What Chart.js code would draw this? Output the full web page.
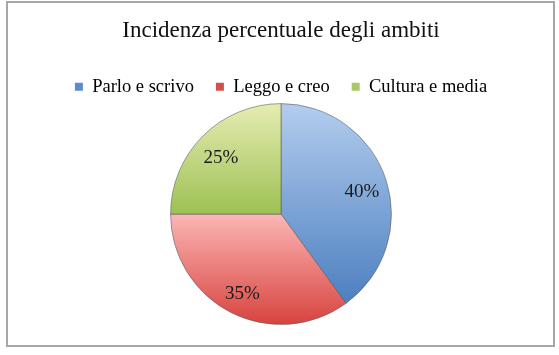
<!DOCTYPE html>
<html lang="it">
<head>
  <meta charset="UTF-8">
  <title>Incidenza percentuale degli ambiti</title>
  <script src="https://cdn.jsdelivr.net/npm/chart.js"></script>
  <style>
    html, body { margin: 0; padding: 0; background: #fff; }
    #wrap { position: relative; width: 559px; height: 355px; }
    #frame { position: absolute; left: 6px; top: 1px; width: 545px; height: 342px; border: 2px solid #a6a6a6; }
  </style>
</head>
<body>
<div id="wrap">
  <div id="frame"></div>
  <canvas id="ambitiChart" width="559" height="355"></canvas>
</div>

<script>
  // dati
  const ambiti = ['Parlo e scrivo', 'Leggo e creo', 'Cultura e media'];
  const percentuali = [40, 35, 25];

  // colori: chiaro in alto, scuro in basso (stile Excel)
  const coloriChiari = ['#b3cdee', '#fbb6b6', '#e6ecb3'];
  const coloriScuri = ['#4c7fc0', '#d8433e', '#9dc153'];
  const coloriLegenda = ['#5b8ccc', '#d0504d', '#a6c963'];

  const serif = "'Liberation Serif', 'DejaVu Serif', serif";

  // sfumatura verticale sul riquadro di ogni fetta
  function sfumatura(ctx) {
    const chart = ctx.chart;
    const area = chart.chartArea;
    const i = ctx.dataIndex;
    if (!area) return coloriScuri[i];
    const cy = (area.top + area.bottom) / 2;
    const r = Math.min(area.right - area.left, area.bottom - area.top) / 2;
    const tot = percentuali.reduce((a, b) => a + b, 0);
    let prima = 0;
    for (let k = 0; k < i; k++) prima += percentuali[k];
    const a0 = -Math.PI / 2 + prima / tot * 2 * Math.PI;
    const a1 = a0 + percentuali[i] / tot * 2 * Math.PI;
    let ys = [cy, cy + Math.sin(a0) * r, cy + Math.sin(a1) * r];
    [-Math.PI / 2, Math.PI / 2, 3 * Math.PI / 2].forEach(a => {
      if (a > a0 && a < a1) ys.push(cy + Math.sin(a) * r);
    });
    const top = Math.min(...ys), bottom = Math.max(...ys);
    const g = chart.ctx.createLinearGradient(0, top, 0, bottom);
    g.addColorStop(0, coloriChiari[i]);
    g.addColorStop(1, coloriScuri[i]);
    return g;
  }

  // legenda un po' più bassa di quella standard
  const legendaCompatta = {
    id: 'legendaCompatta',
    beforeInit(chart) {
      const fit = chart.legend.fit;
      chart.legend.fit = function () {
        fit.call(this);
        this.height -= 3;
      };
    }
  };

  // etichette percentuali dentro le fette
  const etichette = {
    id: 'etichette',
    afterDatasetsDraw(chart) {
      const ctx = chart.ctx;
      const meta = chart.getDatasetMeta(0);
      ctx.save();
      ctx.font = '19px ' + serif;
      ctx.fillStyle = '#1a1a1a';
      ctx.textAlign = 'center';
      ctx.textBaseline = 'middle';
      meta.data.forEach((arc, i) => {
        const p = arc.getProps(['x', 'y', 'startAngle', 'endAngle', 'outerRadius'], true);
        const a = (p.startAngle + p.endAngle) / 2;
        const r = p.outerRadius * 0.77;
        ctx.fillText(percentuali[i] + '%', p.x + Math.cos(a) * r, p.y + Math.sin(a) * r + 4);
      });
      ctx.restore();
    }
  };

  new Chart(document.getElementById('ambitiChart'), {
    type: 'pie',
    data: {
      labels: ambiti,
      datasets: [{
        data: percentuali,
        backgroundColor: sfumatura,
        borderColor: 'rgba(90,90,90,0.55)',
        borderWidth: 1
      }]
    },
    options: {
      responsive: false,
      animation: false,
      events: [],
      layout: { padding: { left: 3, right: 0, top: 0, bottom: 30 } },
      plugins: {
        title: {
          display: true,
          text: 'Incidenza percentuale degli ambiti',
          color: '#111',
          font: { family: serif, size: 23, weight: 'normal' },
          padding: { top: 17, bottom: 11 }
        },
        legend: {
          position: 'top',
          labels: {
            color: '#111',
            font: { family: serif, size: 18.5 },
            boxWidth: 8,
            boxHeight: 8,
            padding: 22,
            generateLabels(chart) {
              return ambiti.map((nome, i) => ({
                text: nome,
                fillStyle: coloriLegenda[i],
                strokeStyle: coloriLegenda[i],
                lineWidth: 0,
                index: i
              }));
            }
          }
        },
        tooltip: { enabled: false }
      }
    },
    plugins: [legendaCompatta, etichette]
  });
</script>
</body>
</html>
